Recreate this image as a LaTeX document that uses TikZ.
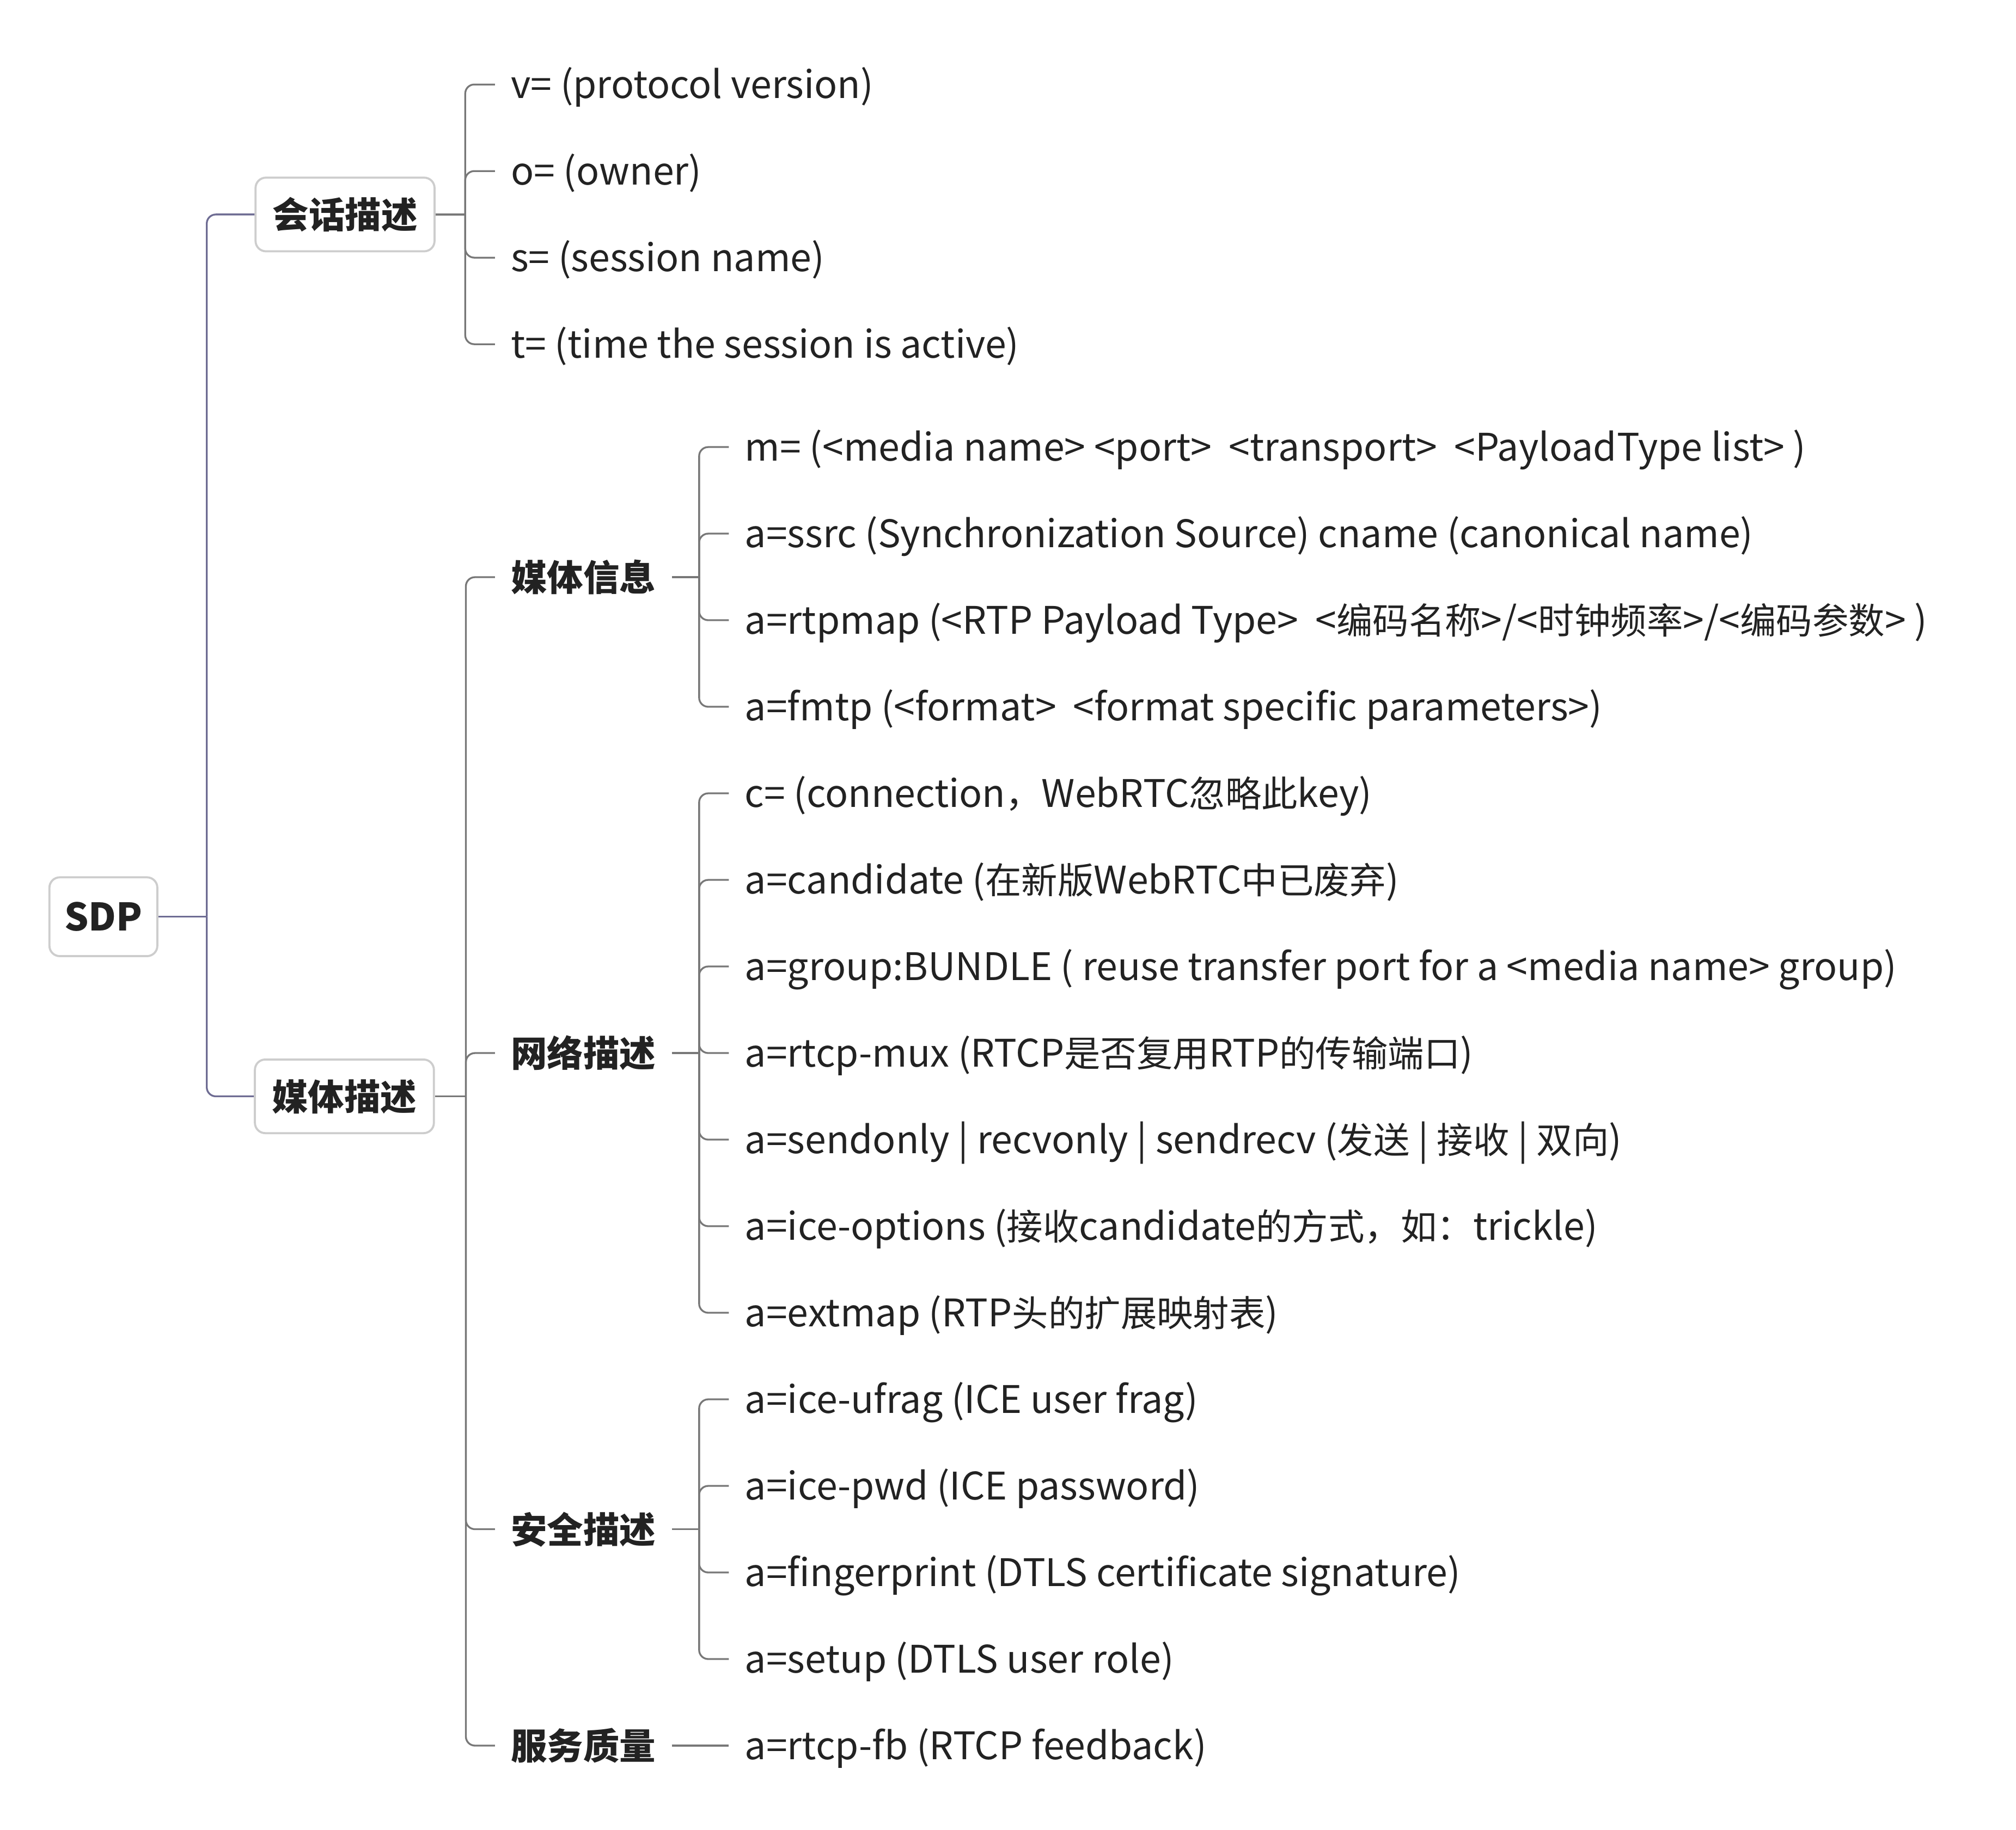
\documentclass[tikz,border=0pt]{standalone}
\usepackage{fontspec}
\setmainfont[Scale=1.05]{Noto Sans CJK SC}
\newfontfamily\zhfont{Noto Sans CJK SC}
\newcommand\zh[1]{{\zhfont #1}}
\definecolor{boxgray}{HTML}{CDCDCD}
\definecolor{violetgray}{HTML}{6E6C93}
\definecolor{linegray}{HTML}{787878}
\definecolor{inkgray}{HTML}{222222}
\begin{document}
\begin{tikzpicture}[x=0.5pt, y=-0.5pt,
  topic/.style={rectangle, rounded corners=4pt, draw=boxgray, line width=0.8pt, fill=white, text=inkgray,
    font=\fontsize{14pt}{17pt}\selectfont\bfseries, minimum width=69.25pt, minimum height=28.5pt,
    text height=10.8pt, text depth=0pt},
  subtopic/.style={anchor=west, inner xsep=6pt, text=inkgray, font=\zhfont\fontsize{14pt}{17pt}\selectfont\bfseries,
    text height=10.8pt, text depth=0pt},
  leaf/.style={anchor=west, inner xsep=6pt, text=inkgray, font=\fontsize{14pt}{17pt}\selectfont,
    text height=10.8pt, text depth=0pt},
  trunk/.style={draw=violetgray, line width=0.7pt, rounded corners=3.5pt},
  twig/.style={draw=linegray, line width=0.7pt, rounded corners=3.5pt}]
\useasboundingbox (0,0) rectangle (1560,1416);

% root and first level
\node[topic, minimum width=41.75pt, minimum height=30.5pt] (sdp) at (80,709.5) {SDP};
\node[topic, font=\zhfont\fontsize{14pt}{17pt}\selectfont\bfseries] (session) at (267,166) {会话描述};
\node[topic, font=\zhfont\fontsize{14pt}{17pt}\selectfont\bfseries] (media) at (266.5,848.5) {媒体描述};
\draw[trunk] (sdp.east) -- (160,709.5) coordinate (root fork);
\foreach \n in {session, media}
  \draw[trunk] (root fork) |- (\n.west);

% session description
\draw[twig] (session.east) -- (360,166) coordinate (session fork);
\foreach \txt [count=\i from 0] in {{v= (protocol version)}, {o= (owner)}, {s= (session name)},
    {t= (time the session is active)}} {
  \node[leaf] (session \i) at (383, 65.4+67*\i) {\txt};
  \draw[twig] (session fork) |- (session \i.west);
}

% media description
\draw[twig] (media.east) -- (360.5,848.5) coordinate (media fork);
\node[subtopic] (info) at (383,446.7) {媒体信息};
\node[subtopic] (network) at (383,815) {网络描述};
\node[subtopic] (security) at (383,1183.5) {安全描述};
\node[subtopic] (quality) at (383,1351) {服务质量};
\foreach \n in {info, network, security, quality} {
  \draw[twig] (media fork) |- (\n.west);
  \draw[twig] (\n.east) -- (541, 0 |- \n.east) coordinate (\n\space fork);
}

\foreach \txt [count=\i from 0] in {{m= (<media name> <port>\ \ <transport>\ \ <PayloadType list> )},
    {a=ssrc (Synchronization Source) cname (canonical name)},
    {a=rtpmap (<RTP Payload Type>\ \ <\zh{编码名称}>/<\zh{时钟频率}>/<\zh{编码参数}> )},
    {a=fmtp (<format>\ \ <format specific parameters>)}} {
  \node[leaf] (info \i) at (564, 346+67*\i) {\txt};
  \draw[twig] (info fork) |- (info \i.west);
}

\foreach \txt [count=\i from 0] in {{c= (connection\zh{，}WebRTC\zh{忽略此}key)},
    {a=candidate (\zh{在新版}WebRTC\zh{中已废弃})},
    {a=group:BUNDLE ( reuse transfer port for a <media name> group)},
    {a=rtcp-mux (RTCP\zh{是否复用}RTP\zh{的传输端口})},
    {a=sendonly | recvonly | sendrecv (\zh{发送} | \zh{接收} | \zh{双向})},
    {a=ice-options (\zh{接收}candidate\zh{的方式，如：}trickle)},
    {a=extmap (RTP\zh{头的扩展映射表})}} {
  \node[leaf] (network \i) at (564, 614+67*\i) {\txt};
  \draw[twig] (network fork) |- (network \i.west);
}

\foreach \txt [count=\i from 0] in {{a=ice-ufrag (ICE user frag)}, {a=ice-pwd (ICE password)},
    {a=fingerprint (DTLS certificate signature)}, {a=setup (DTLS user role)}} {
  \node[leaf] (security \i) at (564, 1083+67*\i) {\txt};
  \draw[twig] (security fork) |- (security \i.west);
}

\node[leaf] (quality 0) at (564,1351) {a=rtcp-fb (RTCP feedback)};
\draw[twig] (quality fork) -- (quality 0.west);
\end{tikzpicture}
\end{document}
